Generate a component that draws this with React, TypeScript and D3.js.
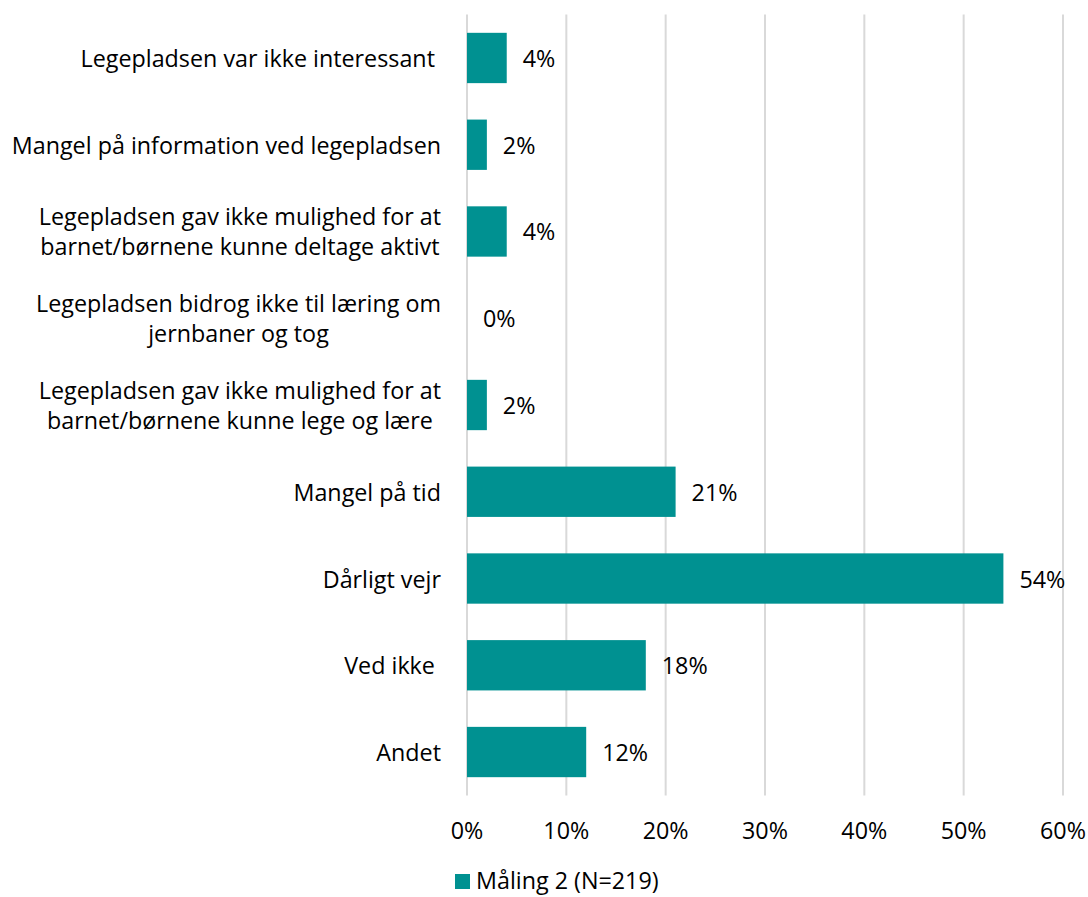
import React from "react";
import { scaleLinear, scaleBand } from "d3";

const width = 1088;
const height = 897;

// data
const categories = [
  "Legepladsen var ikke interessant ",
  "Mangel på information ved legepladsen",
  "Legepladsen gav ikke mulighed for at\nbarnet/børnene kunne deltage aktivt",
  "Legepladsen bidrog ikke til læring om\njernbaner og tog",
  "Legepladsen gav ikke mulighed for at\nbarnet/børnene kunne lege og lære",
  "Mangel på tid",
  "Dårligt vejr",
  "Ved ikke ",
  "Andet",
];
const values = [4, 2, 4, 0, 2, 21, 54, 18, 12];
const ticks = [0, 10, 20, 30, 40, 50, 60];
const seriesName = "Måling 2 (N=219)";

const color = "#009191";
const gridColor = "#d9d9d9";
const font = "'Open Sans', sans-serif";
const fontSize = 23.3;

const plotLeft = 467;
const plotRight = 1063;
const plotTop = 14.6;
const plotBottom = 795.4;
const labelRight = 441;

const x = scaleLinear().domain([0, 60]).range([plotLeft, plotRight]);
const y = scaleBand<string>()
  .domain(categories)
  .range([plotTop, plotBottom])
  .paddingInner(0.42)
  .paddingOuter(0.21);

export default function App() {
  return (
    <svg
      width={width}
      height={height}
      style={{ position: "absolute", left: 0, top: 0, background: "white" }}
      fontFamily={font}
      fontSize={fontSize}
    >
      {/* gridlines */}
      {ticks.map((t) => (
        <line
          key={t}
          x1={x(t)}
          x2={x(t)}
          y1={plotTop}
          y2={plotBottom}
          stroke={gridColor}
          strokeWidth={2}
        />
      ))}
      {/* bars */}
      {categories.map((c, i) => {
        const cy = (y(c) || 0) + y.bandwidth() / 2;
        const lines = c.split("\n");
        const lh = 30;
        return (
          <g key={c}>
            <rect
              x={x(0)}
              y={y(c)}
              width={x(values[i]) - x(0)}
              height={y.bandwidth()}
              fill={color}
            />
            <text
              x={x(values[i]) + 16}
              y={cy}
              dominantBaseline="central"
              fill="#000"
            >
              {values[i]}%
            </text>
            {lines.length === 1 ? (
              <text
                x={labelRight}
                y={cy}
                textAnchor="end"
                dominantBaseline="central"
                style={{ whiteSpace: "pre" }}
              >
                {c}
              </text>
            ) : (
              <LabelBlock lines={lines} cy={cy} lh={lh} />
            )}
          </g>
        );
      })}
      {/* x tick labels */}
      {ticks.map((t) => (
        <text
          key={t}
          x={x(t)}
          y={830}
          textAnchor="middle"
          dominantBaseline="central"
        >
          {t}%
        </text>
      ))}
      {/* legend */}
      <rect x={455} y={874} width={15} height={15} fill={color} />
      <text x={476} y={880} dominantBaseline="central">
        {seriesName}
      </text>
    </svg>
  );
}

// wrapped labels: lines centred on each other, block right-aligned to the axis
function LabelBlock({ lines, cy, lh }: { lines: string[]; cy: number; lh: number }) {
  const ref = React.useRef<SVGGElement>(null);
  const [center, setCenter] = React.useState(labelRight - 200);
  React.useLayoutEffect(() => {
    if (!ref.current) return;
    const texts = Array.from(ref.current.querySelectorAll("text"));
    const w = Math.max(...texts.map((t) => t.getComputedTextLength()));
    setCenter(labelRight - w / 2);
  }, []);
  return (
    <g ref={ref}>
      {lines.map((l, k) => (
        <text
          key={k}
          x={center}
          y={cy + (k - (lines.length - 1) / 2) * lh}
          textAnchor="middle"
          dominantBaseline="central"
        >
          {l}
        </text>
      ))}
    </g>
  );
}
